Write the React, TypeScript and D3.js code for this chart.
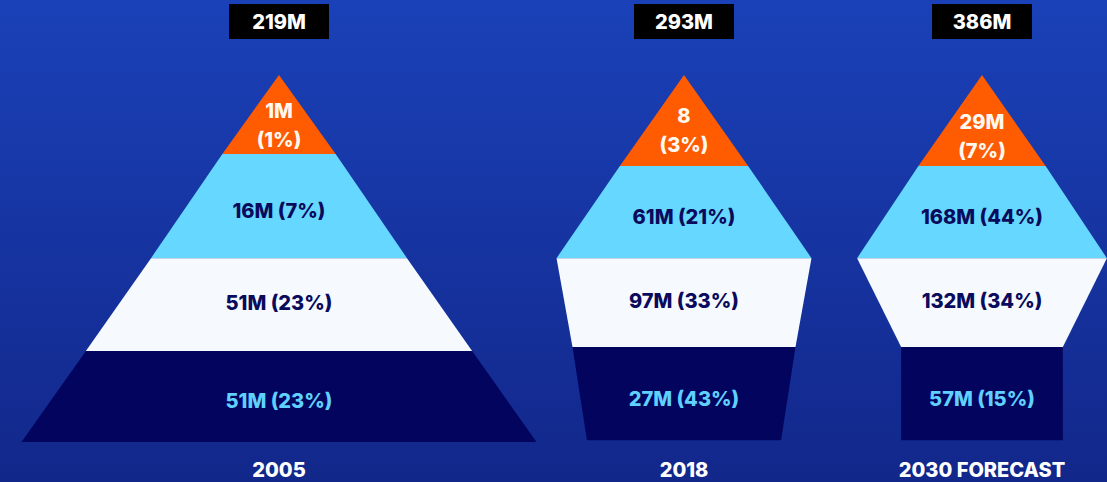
import { useEffect } from "react";
import * as d3 from "d3";

// Population tiers per period (top tier first)
const years = ["2005", "2018", "2030 FORECAST"];
const totals = ["219M", "293M", "386M"];
const tierValues = [
    ["1M", "16M", "51M", "51M"],
    ["8", "61M", "97M", "27M"],
    ["29M", "168M", "132M", "57M"],
];
const tierShares = [
    ["1%", "7%", "23%", "23%"],
    ["3%", "21%", "33%", "43%"],
    ["7%", "44%", "34%", "15%"],
];
// relative width of the shape at each tier boundary (apex .. base)
const boundaryWidths = [
    [0, 22, 49.7, 75, 100],
    [0, 24.9, 49.5, 43.3, 37.7],
    [0, 24.7, 48.5, 31.4, 31.4],
];
// relative depth of each tier boundary (0 = apex, 100 = base)
const boundaryDepths = [
    [0, 21.5, 49.9, 75.2, 100],
    [0, 24.8, 49.9, 74.1, 99.5],
    [0, 24.8, 49.9, 74.1, 99.5],
];

const WIDTH = 1107;
const HEIGHT = 482;
const centers = [279, 684, 982];

const tierFill = ["#ff5b00", "#66d8ff", "#f6faff", "#03045e"];
const tierText = ["#fff8f0", "#0a0b5c", "#0a0b5c", "#5fd0ff"];
// small vertical nudges of the tier labels, px
const labelShift = [0, 5, -2, 5];
const topLabelShift = [0, -2, 4];
const FONT = "Inter, 'Open Sans', sans-serif";

export default function App() {
    useEffect(() => {
        document.body.style.margin = "0";
    }, []);

    const y = d3.scaleLinear().domain([0, 100]).range([75, 442]);
    const w = d3.scaleLinear().domain([0, 100]).range([0, 515]);

    return (
        <svg width={WIDTH} height={HEIGHT} style={{ display: "block" }}>
            <defs>
                <linearGradient id="bg" x1="0" y1="0" x2="0" y2="1">
                    <stop offset="0%" stopColor="#1a41b8" />
                    <stop offset="100%" stopColor="#12278a" />
                </linearGradient>
            </defs>
            <rect width={WIDTH} height={HEIGHT} fill="url(#bg)" />

            {years.map((year, p) => {
                const cx = centers[p];
                const widths = boundaryWidths[p];
                const depths = boundaryDepths[p];
                return (
                    <g key={year}>
                        {tierValues[p].map((val, i) => {
                            const y0 = y(depths[i]);
                            const y1 = y(depths[i + 1]);
                            const h0 = w(widths[i]) / 2;
                            const h1 = w(widths[i + 1]) / 2;
                            const path = d3.path();
                            path.moveTo(cx - h0, y0);
                            path.lineTo(cx + h0, y0);
                            path.lineTo(cx + h1, y1);
                            path.lineTo(cx - h1, y1);
                            path.closePath();
                            const isTop = i === 0;
                            const ty = isTop
                                ? y0 + (y1 - y0) * 0.63 + topLabelShift[p]
                                : (y0 + y1) / 2 + labelShift[i];
                            return (
                                <g key={i}>
                                    <path d={path.toString()} fill={tierFill[i]} />
                                    {isTop ? (
                                        <text
                                            x={cx}
                                            textAnchor="middle"
                                            fontFamily={FONT}
                                            fontWeight={800}
                                            fontSize={20}
                                            fill={tierText[i]}
                                        >
                                            <tspan x={cx} y={ty - 14} dominantBaseline="central">
                                                {val}
                                            </tspan>
                                            <tspan x={cx} y={ty + 15} dominantBaseline="central">
                                                ({tierShares[p][i]})
                                            </tspan>
                                        </text>
                                    ) : (
                                        <text
                                            x={cx}
                                            y={ty}
                                            textAnchor="middle"
                                            dominantBaseline="central"
                                            fontFamily={FONT}
                                            fontWeight={800}
                                            fontSize={20}
                                            fill={tierText[i]}
                                        >
                                            {`${val} (${tierShares[p][i]})`}
                                        </text>
                                    )}
                                </g>
                            );
                        })}

                        {/* total above each shape */}
                        <rect x={cx - 50} y={4} width={100} height={35} fill="#000000" />
                        <text
                            x={cx}
                            y={22}
                            textAnchor="middle"
                            dominantBaseline="central"
                            fontFamily={FONT}
                            fontWeight={800}
                            fontSize={20}
                            fill="#ffffff"
                        >
                            {totals[p]}
                        </text>

                        {/* period label */}
                        <text
                            x={cx}
                            y={470}
                            textAnchor="middle"
                            dominantBaseline="central"
                            fontFamily={FONT}
                            fontWeight={800}
                            fontSize={20}
                            fill="#ffffff"
                        >
                            {year}
                        </text>
                    </g>
                );
            })}
        </svg>
    );
}
